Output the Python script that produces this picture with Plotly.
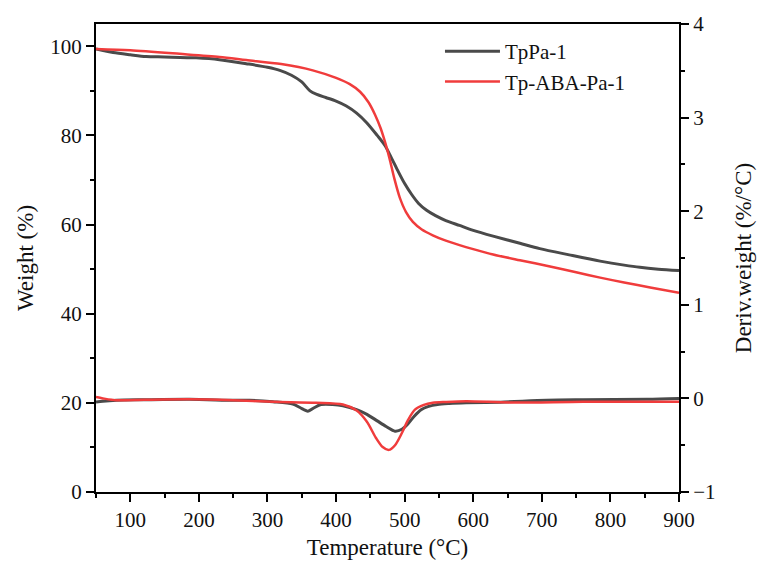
import plotly.graph_objects as go

# ---- TG data (Weight %, left axis) ----
tg_gray_T = [50, 75, 100, 123, 150, 196, 230, 269, 300, 318, 335, 350, 362, 372, 385, 400, 415, 430,
             445, 460, 471, 480, 490, 500, 510, 520, 532, 545, 560, 580, 600, 629, 668,
             697, 740, 785, 820, 843, 870, 900]
tg_gray_W = [99.4, 98.6, 98.1, 97.7, 97.6, 97.4, 97.0, 96.1, 95.3, 94.6, 93.5, 92.0, 90.0, 89.2, 88.5,
             87.7, 86.6, 85.0, 82.8, 80.0, 77.8, 75.2, 72.1, 69.2, 66.8, 64.8, 63.2, 62.0, 60.9, 59.8,
             58.7, 57.4, 55.8, 54.6, 53.2, 51.8, 50.9, 50.4, 50.0, 49.7]

tg_red_T = [50, 100, 172, 230, 269, 320, 366, 400, 420, 435, 447, 457, 465, 472, 478, 485,
            493, 502, 512, 525, 541, 560, 580, 600, 629, 668, 712, 750, 785, 820, 858, 900]
tg_red_W = [99.4, 99.1, 98.3, 97.6, 96.9, 96.0, 94.6, 92.9, 91.5, 89.8, 87.5, 84.6, 81.6, 78.2, 74.8, 70.3,
            66.0, 62.8, 60.6, 58.9, 57.6, 56.4, 55.4, 54.5, 53.3, 52.0, 50.6, 49.3,
            48.1, 47.0, 45.9, 44.7]

# ---- DTG data (Deriv. weight %/°C, right axis) ----
dtg_gray_T = [50, 60, 80, 120, 186, 250, 274, 308, 337, 348, 359, 368, 378, 395, 410, 430, 445, 460,
              473, 486, 496, 505, 514, 524, 535, 548, 565, 590, 640, 707, 760, 853, 900]
dtg_gray_D = [-0.04, -0.03, -0.02, -0.015, -0.01, -0.02, -0.02, -0.036, -0.06, -0.10, -0.136, -0.10,
              -0.066, -0.065, -0.078, -0.12, -0.17, -0.24, -0.30, -0.35, -0.33, -0.27, -0.19, -0.12,
              -0.085, -0.065, -0.055, -0.047, -0.04, -0.02, -0.015, -0.01, 0.0]

dtg_red_T = [50, 60, 80, 120, 186, 250, 308, 371, 410, 430, 445, 458, 468, 477, 486, 496,
             505, 515, 528, 541, 560, 590, 658, 760, 900]
dtg_red_D = [0.014, 0.0, -0.02, -0.015, -0.01, -0.02, -0.036, -0.047, -0.066, -0.13, -0.25, -0.42,
             -0.52, -0.55, -0.50, -0.37, -0.23, -0.12, -0.07, -0.047,
             -0.038, -0.03, -0.045, -0.036, -0.036]

names = ["TpPa-1", "Tp-ABA-Pa-1"]
GRAY = "#4a4a4a"
RED = "#f03c3c"
FONT = "'Times New Roman', 'Liberation Serif', serif"

fig = go.Figure()
fig.add_trace(go.Scatter(x=tg_gray_T, y=tg_gray_W, mode="lines", name=names[0],
                         line=dict(color=GRAY, width=3, shape="spline", smoothing=0.8)))
fig.add_trace(go.Scatter(x=tg_red_T, y=tg_red_W, mode="lines", name=names[1],
                         line=dict(color=RED, width=2.5, shape="spline", smoothing=0.8)))
fig.add_trace(go.Scatter(x=dtg_gray_T, y=dtg_gray_D, mode="lines", name=names[0], yaxis="y2",
                         showlegend=False,
                         line=dict(color=GRAY, width=3, shape="spline", smoothing=0.8)))
fig.add_trace(go.Scatter(x=dtg_red_T, y=dtg_red_D, mode="lines", name=names[1], yaxis="y2",
                         showlegend=False,
                         line=dict(color=RED, width=2.5, shape="spline", smoothing=0.8)))

axis_common = dict(showline=True, linecolor="black", linewidth=2, ticks="outside",
                   ticklen=8, tickwidth=2, tickcolor="black", showgrid=False, zeroline=False,
                   tickfont=dict(family=FONT, size=21, color="#111"))

fig.update_layout(
    width=766, height=569,
    margin=dict(l=96, r=87, t=22, b=77),
    paper_bgcolor="white", plot_bgcolor="white",
    font=dict(family=FONT, size=21, color="#111"),
    xaxis=dict(range=[50, 900], tick0=0, dtick=100, mirror=True,
               title=dict(text="Temperature (°C)", font=dict(family=FONT, size=23), standoff=8),
               minor=dict(ticks="outside", dtick=50, tick0=0, ticklen=4, tickwidth=2, tickcolor="black"),
               **axis_common),
    yaxis=dict(range=[0, 105], tick0=0, dtick=20,
               title=dict(text="Weight (%)", font=dict(family=FONT, size=23), standoff=10),
               minor=dict(ticks="outside", dtick=10, tick0=0, ticklen=4, tickwidth=2, tickcolor="black"),
               **axis_common),
    yaxis2=dict(range=[-1, 4], tick0=0, dtick=1, overlaying="y", side="right",
                title=dict(text="Deriv.weight (%/°C)", font=dict(family=FONT, size=23), standoff=20),
                minor=dict(ticks="outside", dtick=0.5, tick0=0, ticklen=4, tickwidth=2, tickcolor="black"),
                **axis_common),
    legend=dict(x=0.59, y=0.985, xanchor="left", yanchor="top", bgcolor="rgba(0,0,0,0)",
                font=dict(family=FONT, size=21), itemwidth=55, tracegroupgap=0),
    showlegend=True,
)

fig.write_html("out.html")
